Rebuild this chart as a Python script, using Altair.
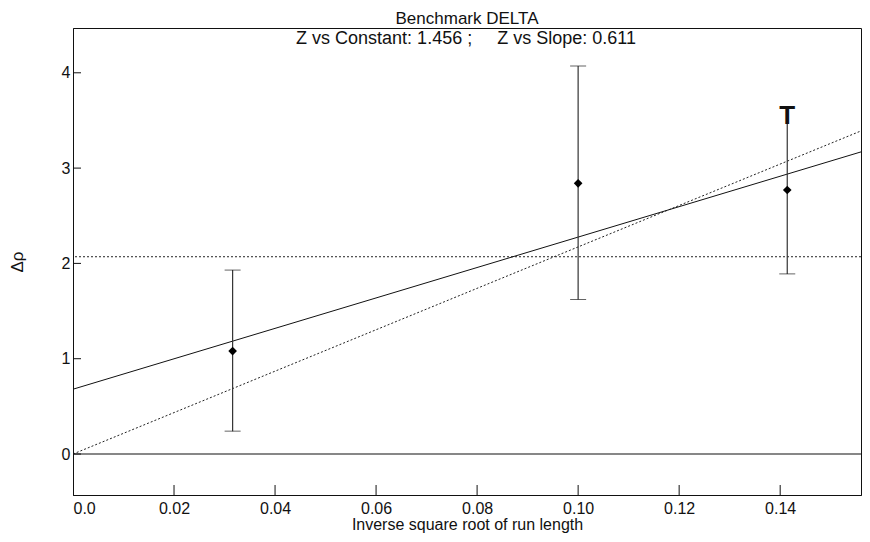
import altair as alt
import pandas as pd

# ---- data ----
run_x = [0.0316, 0.1000, 0.1414]
delta = [1.08, 2.84, 2.77]
err_lo = [0.24, 1.62, 1.89]
err_hi = [1.93, 4.07, 3.65]
bold_cap = [False, False, True]

fit_x = [0.0, 0.156]
fit_solid_y = [0.68, 3.17]
fit_origin_y = [0.0, 3.39]
const_level = [2.07]
zero_level = [0.0]

y_ticks = [0, 1, 2, 3, 4]
x_ticks = [0.0, 0.02, 0.04, 0.06, 0.08, 0.10, 0.12, 0.14]

title = "Benchmark DELTA"
subtitle = "Z vs Constant: 1.456 ;\u00a0\u00a0\u00a0\u00a0\u00a0Z vs Slope: 0.611"

W, H = 788, 467
FONT = "Liberation Sans"

pts = pd.DataFrame({"x": run_x, "y": delta, "lo": err_lo, "hi": err_hi, "bold": bold_cap})
fit = pd.DataFrame({"x": fit_x, "solid": fit_solid_y, "origin": fit_origin_y})
xscale = alt.Scale(domain=[0, 0.156], nice=False, zero=False)
yscale = alt.Scale(domain=[-0.43, 4.47], nice=False, zero=False)

xaxis = alt.Axis(values=x_ticks, ticks=False, grid=False, labelPadding=5,
                 labelExpr="datum.value == 0 ? '0.0' : format(datum.value, '.2f')",
                 labelFontSize=16, labelFont=FONT, labelColor="#111",
                 title="Inverse square root of run length", titlePadding=0,
                 titleFontSize=16, titleFont=FONT, titleFontWeight="normal", titleColor="#111")
yaxis = alt.Axis(values=y_ticks, ticks=False, grid=False, labelPadding=3,
                 format="d", labelFontSize=16, labelFont=FONT, labelColor="#111",
                 title="Δρ", titlePadding=35,
                 titleFontSize=17, titleFont=FONT, titleFontWeight="normal", titleColor="#111")

base_x = alt.X("x:Q", scale=xscale, axis=xaxis)

solid_line = alt.Chart(fit).mark_line(color="#111", strokeWidth=1).encode(
    x=base_x, y=alt.Y("solid:Q", scale=yscale, axis=yaxis))
origin_line = alt.Chart(fit).mark_line(color="#222", strokeWidth=1, strokeDash=[2, 2]).encode(
    x="x:Q", y="origin:Q")
const_rule = alt.Chart(pd.DataFrame({"y": const_level})).mark_rule(
    color="#222", strokeWidth=1, strokeDash=[2, 2]).encode(y="y:Q")
zero_rule = alt.Chart(pd.DataFrame({"y": zero_level})).mark_rule(
    color="#111", strokeWidth=1.2).encode(y="y:Q")

bars = alt.Chart(pts).mark_rule(color="#333", strokeWidth=1.2).encode(
    x="x:Q", y="lo:Q", y2="hi:Q")
cap_lo = alt.Chart(pts).mark_tick(color="#222", size=16, thickness=1, orient="horizontal").encode(
    x="x:Q", y="lo:Q")
cap_hi = alt.Chart(pts).transform_filter("!datum.bold").mark_tick(
    color="#222", size=16, thickness=1, orient="horizontal").encode(x="x:Q", y="hi:Q")
cap_bold = alt.Chart(pts).transform_filter("datum.bold").mark_text(
    text="T", font=FONT, fontSize=26, fontWeight="bold", baseline="top", dy=-3, color="#111").encode(
    x="x:Q", y="hi:Q")
markers = alt.Chart(pts).mark_point(shape="diamond", filled=True, color="#000", size=75, opacity=1).encode(
    x="x:Q", y="y:Q")

ytick_marks = alt.Chart(pd.DataFrame({"t": y_ticks})).mark_rule(color="#111").encode(
    y="t:Q", x=alt.value(0), x2=alt.value(8))
xtick_marks = alt.Chart(pd.DataFrame({"t": x_ticks[1:]})).mark_rule(color="#111").encode(
    x="t:Q", y=alt.value(H), y2=alt.value(H - 10))

sub = alt.Chart(pd.DataFrame({"s": [subtitle]})).mark_text(
    font=FONT, fontSize=18, color="#111", baseline="middle", align="center").encode(
    text="s:N", x=alt.value(393), y=alt.value(11))

chart = alt.layer(
    const_rule, zero_rule, origin_line, solid_line, bars, cap_lo, cap_hi, cap_bold,
    markers, ytick_marks, xtick_marks, sub
).properties(
    width=W, height=H,
    title=alt.TitleParams(title, font=FONT, fontSize=17, fontWeight="normal",
                          anchor="middle", offset=0, color="#111"),
    autosize=alt.AutoSizeParams(type="none"),
    padding={"left": 65, "top": 20, "right": 1, "bottom": 39},
    background="white",
).configure_view(stroke="#111", strokeWidth=1).configure_axis(
    domainColor="#111", domainWidth=1
)

chart.save("out.html", embed_options={"renderer": "svg", "actions": False})
